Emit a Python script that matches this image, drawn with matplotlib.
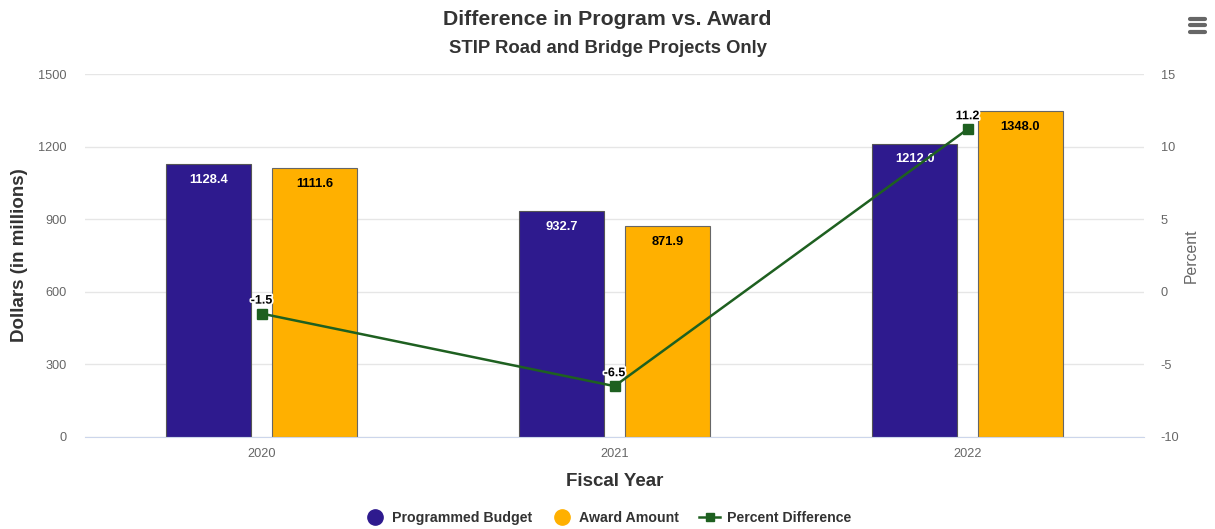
import matplotlib.pyplot as plt
import matplotlib.patheffects as pe
from matplotlib.lines import Line2D
import numpy as np

plt.rcParams['font.family'] = ['Liberation Sans', 'DejaVu Sans']
plt.rcParams['axes.unicode_minus'] = False

# chart data
years = ['2020', '2021', '2022']
programmed = [1128.4, 932.7, 1212.0]
awarded = [1111.6, 871.9, 1348.0]
pct_diff = [-1.5, -6.5, 11.2]

blue = '#2e1a8e'
orange = '#ffb000'
green = '#1e6020'

fig = plt.figure(figsize=(12.15, 5.29), dpi=100)
ax = fig.add_axes([0.07, 0.174, 0.8716, 0.686])
ax2 = ax.twinx()

x = np.arange(len(years))
width = 0.24

b1 = ax.bar(x - 0.15, programmed, width, color=blue, edgecolor='#555555', linewidth=0.8, zorder=2)
b2 = ax.bar(x + 0.15, awarded, width, color=orange, edgecolor='#666666', linewidth=0.8, zorder=2)

for rect, v in zip(b1, programmed):
    ax.annotate(f'{v:.1f}', (rect.get_x() + rect.get_width() / 2, v), xytext=(0, -7),
                textcoords='offset points', ha='center', va='top', fontsize=9.3,
                fontweight='bold', color='white', zorder=5)
for rect, v in zip(b2, awarded):
    ax.annotate(f'{v:.1f}', (rect.get_x() + rect.get_width() / 2, v), xytext=(0, -7),
                textcoords='offset points', ha='center', va='top', fontsize=9.3,
                fontweight='bold', color='black', zorder=5)

ax2.plot(x, pct_diff, color=green, linewidth=1.8, marker='s', markersize=7, zorder=4)
for xi, v in zip(x, pct_diff):
    t = ax2.annotate(f'{v:.1f}', (xi, v), xytext=(0, 5), textcoords='offset points',
                     ha='center', va='bottom', fontsize=9, fontweight='bold', color='black')
    t.set_path_effects([pe.withStroke(linewidth=2.5, foreground='white')])

ax.set_xlim(-0.5, 2.5)
ax.set_ylim(0, 1500)
ax.set_yticks([0, 300, 600, 900, 1200, 1500])
ax2.set_ylim(-10, 15)
ax2.set_yticks([-10, -5, 0, 5, 10, 15])
ax.set_xticks(x)
ax.set_xticklabels(years)

ax.set_zorder(ax2.get_zorder() - 1)
ax.patch.set_visible(False)

ax.grid(axis='y', color='#e6e6e6', linewidth=1, zorder=0)
ax.set_axisbelow(True)
for a in (ax, ax2):
    for s in a.spines.values():
        s.set_visible(False)
    a.tick_params(length=0, labelsize=9.2, labelcolor='#666666')
ax.spines['bottom'].set_visible(True)
ax.spines['bottom'].set_color('#ccd6eb')
ax.tick_params(axis='y', pad=13)
ax2.tick_params(axis='y', pad=12)
ax.tick_params(axis='x', pad=8)

ax.set_ylabel('Dollars (in millions)', fontsize=13.5, fontweight='bold', color='#333333')
ax.yaxis.set_label_coords(-0.054, 0.5)
ax.set_xlabel('Fiscal Year', fontsize=13.5, fontweight='bold', color='#333333', labelpad=9)
ax2.set_ylabel('Percent', fontsize=11.3, color='#666666', labelpad=3)

fig.text(0.5, 0.963, 'Difference in Program vs. Award', ha='center', va='center',
         fontsize=15.3, fontweight='bold', color='#333333')
fig.text(0.5, 0.908, 'STIP Road and Bridge Projects Only', ha='center', va='center',
         fontsize=13.3, fontweight='bold', color='#333333')
# menu icon
for yy in (0.964, 0.952, 0.940):
    fig.add_artist(Line2D([0.9795, 0.9920], [yy, yy], transform=fig.transFigure,
                          color='#666666', linewidth=3, solid_capstyle='round'))

handles = [
    Line2D([], [], linestyle='none', marker='o', markersize=11, color=blue),
    Line2D([], [], linestyle='none', marker='o', markersize=11, color=orange),
    Line2D([], [], color=green, linewidth=1.8, marker='s', markersize=6),
]
fig.legend(handles, ['Programmed Budget', 'Award Amount', 'Percent Difference'],
           loc='center', bbox_to_anchor=(0.5, 0.02), ncol=3, frameon=False,
           labelcolor='#333333', handlelength=1.5, columnspacing=1.4,
           handletextpad=0.45, prop={'weight': 'bold', 'size': 10.2})

fig.savefig('out.png', dpi=100)
